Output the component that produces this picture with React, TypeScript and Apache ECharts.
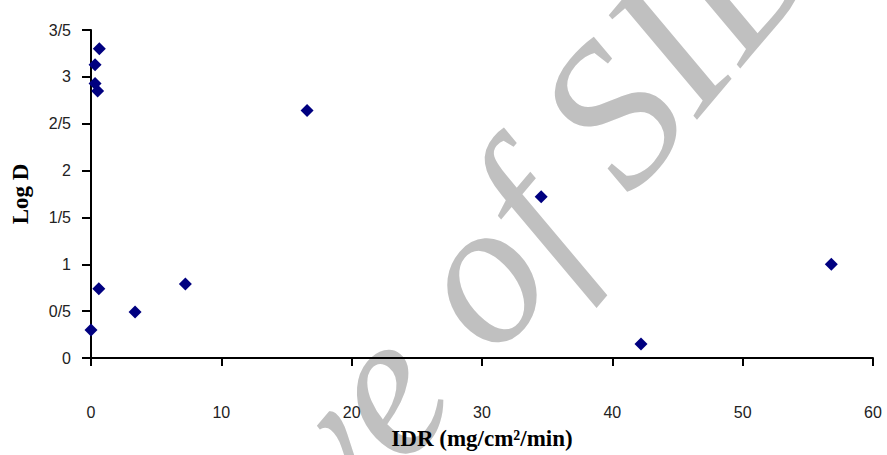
import React, { useEffect, useRef } from "react";
import * as echarts from "echarts";

// IDR (mg/cm²/min) against Log D for each compound
const idrValues = [0.0, 0.6, 3.38, 7.24, 16.58, 34.54, 42.2, 56.8, 0.64, 0.31, 0.31, 0.51];
const logDValues = [0.3, 0.74, 0.49, 0.79, 2.64, 1.72, 0.15, 1.0, 3.3, 3.13, 2.93, 2.85];

// y tick labels use "/" as the decimal mark
const yTickValues = [0, 0.5, 1, 1.5, 2, 2.5, 3, 3.5];
const yTickLabels = ["0", "0/5", "1", "1/5", "2", "2/5", "3", "3/5"];

const xTitle = "IDR (mg/cm\u00B2/min)";
const yTitle = "Log D";
const watermark = "Archive of SID";

export default function App() {
  const ref = useRef<HTMLDivElement>(null);

  useEffect(() => {
    if (!ref.current) return;
    const chart = echarts.init(ref.current, null, { renderer: "svg" });
    const points = idrValues.map((x, i) => [x, logDValues[i]]);
    const tickFont = "'Liberation Sans Narrow', 'Liberation Sans', Arial, sans-serif";
    const titleFont = "'Liberation Serif', 'Times New Roman', serif";

    chart.setOption({
      animation: false,
      backgroundColor: "#ffffff",
      graphic: [
        {
          type: "text",
          z: -10,
          silent: true,
          x: 393,
          y: 374,
          rotation: (50 * Math.PI) / 180,
          style: {
            text: watermark,
            fill: "#c0c0c0",
            font: `italic 206px ${titleFont}`,
            textAlign: "center",
            textVerticalAlign: "middle",
          },
        },
      ],
      grid: { left: 91, right: 14, top: 30, bottom: 96, containLabel: false },
      xAxis: {
        type: "value",
        min: 0,
        max: 60,
        interval: 10,
        name: xTitle,
        nameLocation: "middle",
        nameGap: 69,
        nameTextStyle: {
          fontFamily: titleFont,
          fontWeight: "bold",
          fontSize: 23,
          color: "#000",
        },
        axisLine: { show: true, onZero: false, lineStyle: { color: "#000", width: 2 } },
        axisTick: { show: true, inside: false, length: 8, lineStyle: { color: "#000", width: 2 } },
        axisLabel: { margin: 46, fontFamily: tickFont, fontSize: 16, color: "#222" },
        splitLine: { show: false },
      },
      yAxis: {
        type: "value",
        min: 0,
        max: 3.5,
        interval: 0.5,
        name: yTitle,
        nameLocation: "middle",
        nameGap: 59,
        nameRotate: 90,
        nameTextStyle: {
          fontFamily: titleFont,
          fontWeight: "bold",
          fontSize: 23,
          color: "#000",
        },
        axisLine: { show: true, onZero: false, lineStyle: { color: "#000", width: 2 } },
        axisTick: { show: true, inside: false, length: 9, lineStyle: { color: "#000", width: 2 } },
        axisLabel: {
          margin: 20,
          fontFamily: tickFont,
          fontSize: 16,
          color: "#222",
          formatter: (v: number) => {
            const idx = yTickValues.findIndex((t) => Math.abs(t - v) < 1e-9);
            return idx >= 0 ? yTickLabels[idx] : String(v);
          },
        },
        splitLine: { show: false },
      },
      series: [
        {
          type: "scatter",
          data: points,
          symbol: "diamond",
          symbolSize: 13,
          z: 5,
          itemStyle: { color: "#000080", opacity: 1 },
        },
      ],
    });

    return () => chart.dispose();
  }, []);

  return <div ref={ref} style={{ width: 887, height: 455, position: "absolute", left: 0, top: 0 }} />;
}
